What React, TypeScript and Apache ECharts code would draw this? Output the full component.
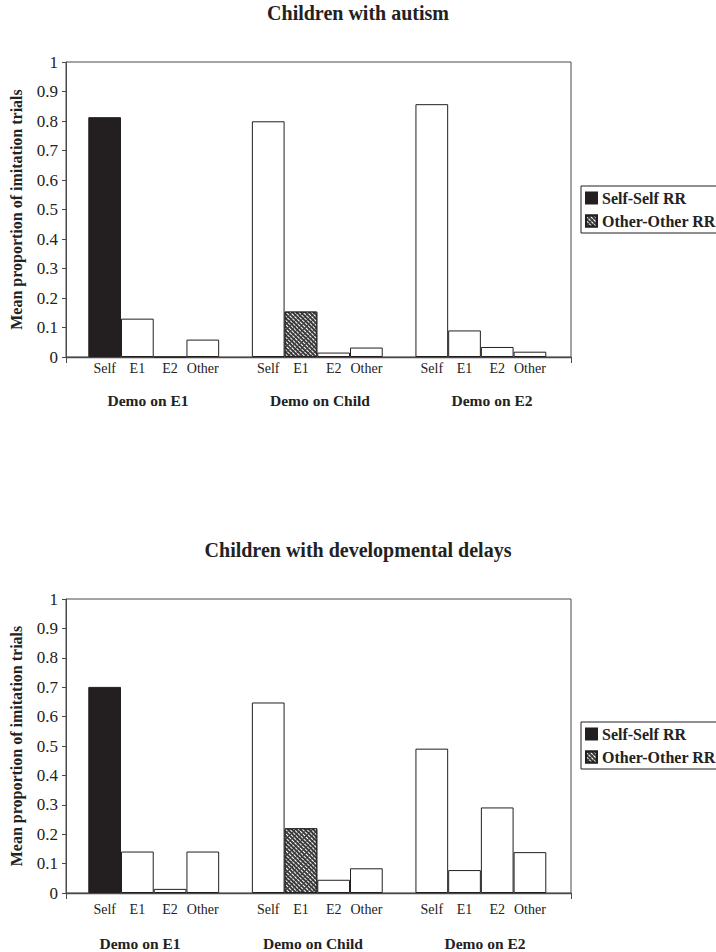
import React, { useEffect, useRef } from 'react';
import * as echarts from 'echarts';

const categories = ['Self', 'E1', 'E2', 'Other', '', 'Self', 'E1', 'E2', 'Other', '', 'Self', 'E1', 'E2', 'Other'];
const groupLabels = ['Demo on E1', 'Demo on Child', 'Demo on E2'];
const legendNames = ['Self-Self RR', 'Other-Other RR'];
const titles = ['Children with autism', 'Children with developmental delays'];
const yAxisName = 'Mean proportion of imitation trials';

// Values per bar (null = gap slot between groups)
const autismValues = [0.813, 0.13, 0, 0.059, null, 0.799, 0.154, 0.015, 0.032, null, 0.857, 0.09, 0.034, 0.018];
const delayValues = [0.701, 0.141, 0.014, 0.141, null, 0.648, 0.22, 0.045, 0.084, null, 0.491, 0.078, 0.291, 0.139];
const selfSelfIndex = 0;
const otherOtherIndex = 6;

const SERIF = "'Liberation Serif', 'Times New Roman', serif";
const INK = '#231f20';
const FRAME = '#4a4a4a';

function pick(values: (number | null)[], keep: (i: number) => boolean) {
  return values.map((v, i) => (v === null ? '-' : keep(i) ? v : '-'));
}

export default function App() {
  const ref = useRef<HTMLDivElement>(null);
  useEffect(() => {
    if (!ref.current) return;
    const chart = echarts.init(ref.current, null, { renderer: 'svg' });

    const panels = [
      { values: autismValues, top: 62, height: 295, titleTop: 3, legendTop: 186, labelMargin: 4, groupY: 400, groupX: [148, 320, 492] },
      { values: delayValues, top: 599, height: 294, titleTop: 540, legendTop: 722, labelMargin: 9, groupY: 943, groupX: [140, 313, 485] },
    ];

    const grids: any[] = [];
    const xAxes: any[] = [];
    const yAxes: any[] = [];
    const series: any[] = [];
    const legends: any[] = [];
    const titleOpts: any[] = [];
    const graphics: any[] = [];

    panels.forEach((p, k) => {
      const frameIdx = grids.length;
      grids.push({ left: 65, width: 506, top: p.top, height: p.height, show: true, borderColor: FRAME, borderWidth: 1, backgroundColor: 'transparent' });
      const barIdx = grids.length;
      grids.push({ left: 88.3, width: 458, top: p.top, height: p.height });

      xAxes.push({
        gridIndex: frameIdx, type: 'value', min: 0, max: 1, interval: 1,
        axisLine: { show: true, lineStyle: { color: FRAME, width: 1.3 } },
        axisTick: { show: true, length: 6, lineStyle: { color: FRAME } },
        axisLabel: { show: false }, splitLine: { show: false },
      });
      xAxes.push({
        gridIndex: barIdx, type: 'category', data: categories,
        axisLine: { show: false }, axisTick: { show: false },
        axisLabel: { fontFamily: SERIF, fontSize: 14, color: '#222', margin: p.labelMargin, interval: 0 },
      });
      yAxes.push({
        gridIndex: frameIdx, type: 'value', min: 0, max: 1, interval: 0.1,
        name: yAxisName, nameLocation: 'middle', nameGap: 42,
        nameTextStyle: { fontFamily: SERIF, fontSize: 16, fontWeight: 'bold', color: '#222' },
        axisLine: { show: true, lineStyle: { color: FRAME } },
        axisTick: { show: true, length: 4, lineStyle: { color: FRAME } },
        axisLabel: { fontFamily: SERIF, fontSize: 17, color: '#222', margin: 8 },
        splitLine: { show: false },
      });
      yAxes.push({ gridIndex: barIdx, type: 'value', min: 0, max: 1, show: false });

      const xi = k * 2 + 1;
      const yi = k * 2 + 1;
      const common = { type: 'bar', xAxisIndex: xi, yAxisIndex: yi, barWidth: '100%', barGap: '-100%', barCategoryGap: 0 };
      series.push({
        ...common, name: 'plain', data: pick(p.values, (i) => i !== selfSelfIndex && i !== otherOtherIndex),
        itemStyle: { color: '#fff', borderColor: INK, borderWidth: 1 },
      });
      series.push({
        ...common, name: legendNames[0], data: pick(p.values, (i) => i === selfSelfIndex),
        itemStyle: { color: INK, borderColor: INK, borderWidth: 1 },
      });
      series.push({
        ...common, name: legendNames[1], data: pick(p.values, (i) => i === otherOtherIndex),
        itemStyle: {
          color: '#3a3a3a', borderColor: INK, borderWidth: 1,
          decal: { symbol: 'rect', symbolSize: 1, color: '#ffffff', dashArrayX: [[3, 1]], dashArrayY: [1, 2], rotation: Math.PI / 4 },
        },
      });

      legends.push({
        data: legendNames.map((n) => ({ name: n, icon: 'rect' })), orient: 'vertical', left: 581, top: p.legendTop,
        padding: [4, 6, 4, 4], itemGap: 7, itemWidth: 11, itemHeight: 11,
        borderColor: INK, borderWidth: 1, selectedMode: false,
        textStyle: { fontFamily: SERIF, fontSize: 16, fontWeight: 'bold', color: '#222' },
      });

      titleOpts.push({
        text: titles[k], left: 'center', top: p.titleTop, padding: 0,
        textStyle: { fontFamily: SERIF, fontSize: 20, fontWeight: 'bold', color: '#222' },
      });

      groupLabels.forEach((g, j) => {
        graphics.push({
          type: 'text', x: p.groupX[j], y: p.groupY,
          style: { text: g, fontFamily: SERIF, fontSize: 15.5, fontWeight: 'bold', fill: '#222', align: 'center', verticalAlign: 'middle' },
        });
      });
    });

    chart.setOption({
      animation: false,
      backgroundColor: '#fff',
      title: titleOpts,
      legend: legends,
      grid: grids,
      xAxis: xAxes,
      yAxis: yAxes,
      series,
      graphic: graphics,
    });
    return () => chart.dispose();
  }, []);
  return <div ref={ref} style={{ position: 'absolute', left: 0, top: 0, width: 716, height: 952 }} />;
}
